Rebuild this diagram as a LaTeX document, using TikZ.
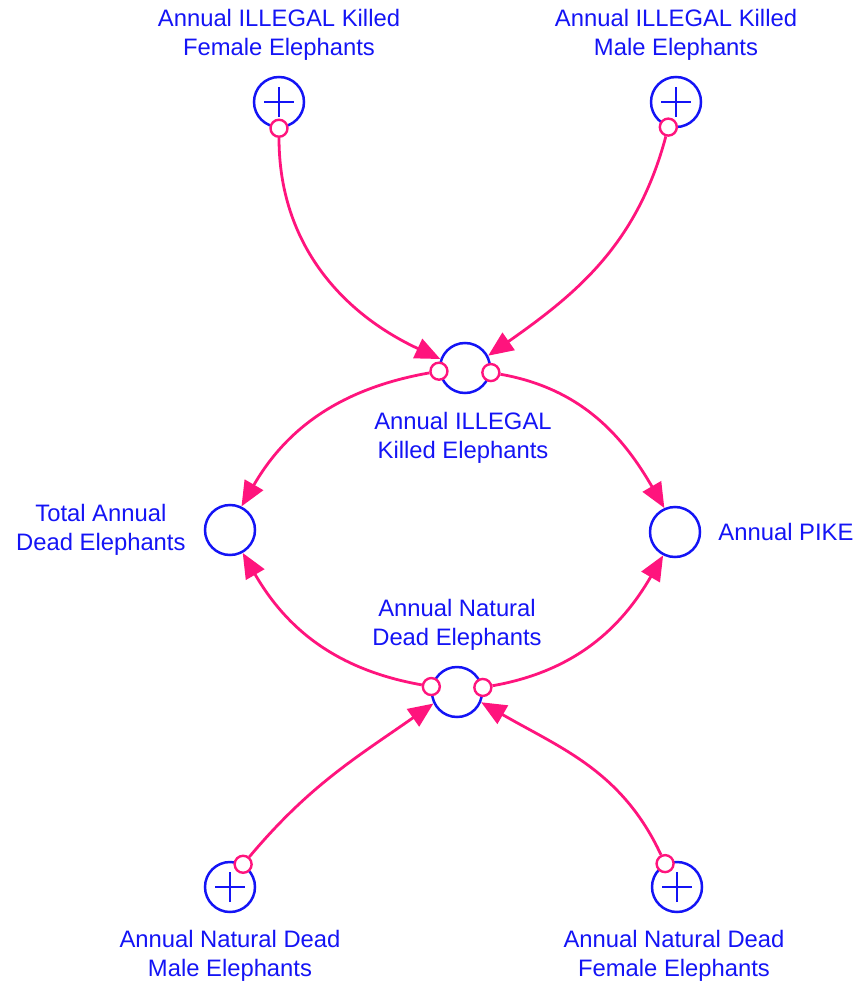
\documentclass[tikz,border=0pt]{standalone}
\usepackage{fontspec}
\setmainfont{Liberation Sans}
\usepackage{tikz}
\usetikzlibrary{
  arrows.meta,
  positioning,
}
\definecolor{varblue}{RGB}{20, 20, 245}
\definecolor{linkpink}{RGB}{255, 20, 125}
\tikzstyle{link} = [
  -{Triangle[length=25pt,width=21pt]},
  line width=2.8pt,
  linkpink,
]
\tikzstyle{var} = [
  circle,
  draw=varblue,
  line width=2.5pt,
  minimum size=50pt,
  inner sep=0pt,
]
\tikzstyle{plusvar} = [
  var,
  path picture={
    \draw[varblue,line width=2.5pt]
      ([xshift=-15pt]path picture bounding box.center) -- ([xshift=15pt]path picture bounding box.center)
      ([yshift=-15pt]path picture bounding box.center) -- ([yshift=15pt]path picture bounding box.center);
  },
]
\tikzstyle{tail} = [
  circle,
  draw=linkpink,
  fill=white,
  line width=2.4pt,
  minimum size=17pt,
  inner sep=0pt,
]
\tikzstyle{lbl} = [
  text=varblue,
  align=center,
  inner sep=0pt,
  font=\fontsize{23.8}{29}\selectfont,
]

\begin{document}
\begin{tikzpicture}[x=1pt,y=1pt,node distance=0mm and 0mm]
      \useasboundingbox (0,0) rectangle (857,-981);

      \node[plusvar] (illf) at (279,-102) {};
      \node[plusvar] (illm) at (676,-102) {};
      \node[var]     (ill)  at (465,-368) {};
      \node[var]     (tot)  at (230,-530) {};
      \node[var]     (pike) at (675,-532) {};
      \node[var]     (nat)  at (457,-692) {};
      \node[plusvar] (natm) at (230,-887) {};
      \node[plusvar] (natf) at (677,-887) {};

      \node[lbl] (illflbl) [above=15pt of illf] {Annual ILLEGAL Killed\\Female Elephants};
      \node[lbl] (illmlbl) [above=15pt of illm] {Annual ILLEGAL Killed\\Male Elephants};
      \node[lbl,xshift=-2pt] (illlbl) [below=18pt of ill] {Annual ILLEGAL\\Killed Elephants};
      \node[lbl] (totlbl)  [left=18pt of tot] {Total Annual\\Dead Elephants};
      \node[lbl] (pikelbl) [right=17pt of pike] {Annual PIKE};
      \node[lbl] (natlbl)  [above=15pt of nat] {Annual Natural\\Dead Elephants};
      \node[lbl] (natmlbl) [below=17pt of natm] {Annual Natural Dead\\Male Elephants};
      \node[lbl,xshift=-3pt] (natflbl) [below=17pt of natf] {Annual Natural Dead\\Female Elephants};

      \node[tail] (illf-t) at (illf.270) {};
      \node[tail] (illm-t) at (illm.253) {};
      \node[tail] (ill-l)  at (ill.187)  {};
      \node[tail] (ill-r)  at (ill.350)  {};
      \node[tail] (nat-l)  at (nat.168)  {};
      \node[tail] (nat-r)  at (nat.10)   {};
      \node[tail] (natm-t) at (natm.60)  {};
      \node[tail] (natf-t) at (natf.117) {};

      \draw[link] (illf-t) to[out=270,in=155] (ill.160);
      \draw[link] (illm-t) to[out=255,in=35] (ill.28);
      \draw[link] (ill-l) to[out=190,in=60] (tot.64);
      \draw[link] (ill-r) to[out=-10,in=120] (pike.114);
      \draw[link] (nat-l) to[out=170,in=300] (tot.299);
      \draw[link] (nat-r) to[out=10,in=240] (pike.243);
      \draw[link] (natm-t) to[out=50,in=215] (nat.206);
      \draw[link] (natf-t) to[out=115,in=330] (nat.337);

    \end{tikzpicture}
\end{document}
